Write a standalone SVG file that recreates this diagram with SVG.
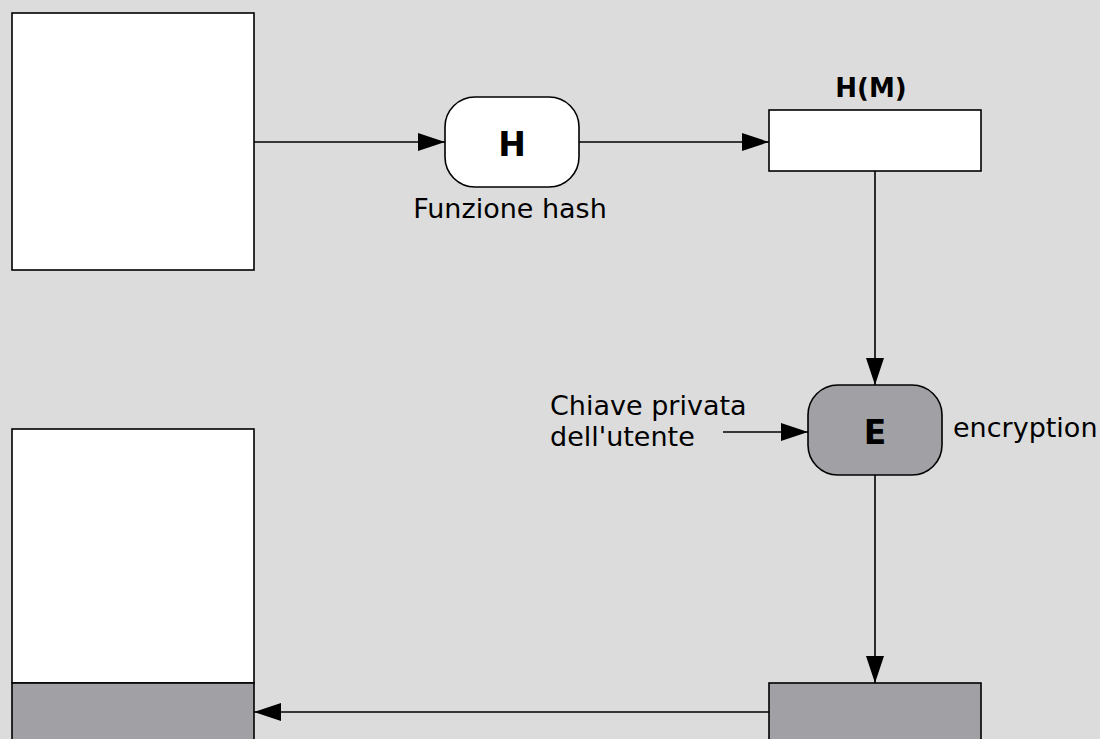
<svg xmlns="http://www.w3.org/2000/svg" width="1100" height="739" viewBox="0 0 1100 739">
<defs>
<style>
.box{stroke:#000;stroke-width:1.6}
.w{fill:#fff}
.g{fill:#a1a0a4}
.t{font-family:"DejaVu Sans",Verdana,sans-serif;font-size:27px;fill:#000}
.b{font-weight:bold;font-size:33px}
.c{stroke:#000;stroke-width:1.6;fill:none}
</style>
<marker id="ah" viewBox="0 0 27 18" refX="27" refY="9" markerWidth="27" markerHeight="18" markerUnits="userSpaceOnUse" orient="auto">
<path d="M0,0 L27,9 L0,18 Z" fill="#000"/>
</marker>
</defs>
<rect width="1100" height="739" fill="#dcdcdc"/>
<g id="msg">
<rect class="box w" x="12" y="13" width="242" height="257"/>
</g>
<g id="hash">
<rect class="box w" x="445" y="97" width="134" height="90" rx="30" ry="30"/>
<text class="t b" x="512" y="156" text-anchor="middle">H</text>
<text class="t" x="510" y="218" text-anchor="middle">Funzione hash</text>
</g>
<g id="hm">
<rect class="box w" x="769" y="110" width="212" height="61"/>
<text class="t b" x="871" y="97" text-anchor="middle" style="font-size:26px">H(M)</text>
</g>
<g id="enc">
<rect class="box g" x="808" y="385" width="134" height="90" rx="30" ry="30"/>
<text class="t b" x="875" y="444" text-anchor="middle">E</text>
<text class="t" x="953" y="437">encryption</text>
</g>
<g id="key">
<text class="t" x="550" y="415">Chiave privata</text>
<text class="t" x="550" y="446">dell'utente</text>
</g>
<g id="sig">
<rect class="box g" x="769" y="683" width="212" height="70"/>
</g>
<g id="signed">
<rect class="box w" x="12" y="429" width="242" height="254"/>
<rect class="box g" x="12" y="683" width="242" height="70"/>
</g>
<g id="connectors">
<line class="c" x1="254" y1="142" x2="445" y2="142" marker-end="url(#ah)"/>
<line class="c" x1="579" y1="142" x2="769" y2="142" marker-end="url(#ah)"/>
<line class="c" x1="875" y1="171" x2="875" y2="385" marker-end="url(#ah)"/>
<line class="c" x1="723" y1="432" x2="808" y2="432" marker-end="url(#ah)"/>
<line class="c" x1="875" y1="475" x2="875" y2="683" marker-end="url(#ah)"/>
<line class="c" x1="769" y1="712" x2="254" y2="712" marker-end="url(#ah)"/>
</g>
</svg>
